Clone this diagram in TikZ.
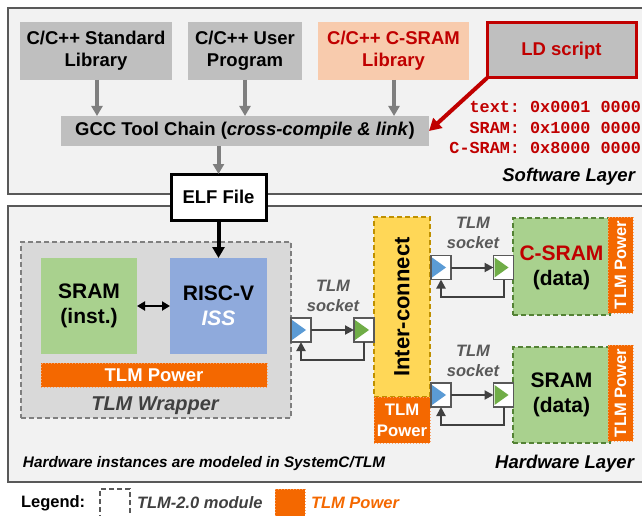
\documentclass[tikz,border=0pt]{standalone}
\usepackage{fontspec}
\setmainfont{Liberation Sans}
\setmonofont{Liberation Mono}
\usetikzlibrary{arrows.meta,calc}
\definecolor{layerfill}{HTML}{F2F2F2}
\definecolor{layerline}{HTML}{595959}
\definecolor{boxgray}{HTML}{BFBFBF}
\definecolor{peach}{HTML}{F8CBAD}
\definecolor{darkred}{HTML}{C00000}
\definecolor{wrapfill}{HTML}{D9D9D9}
\definecolor{wrapline}{HTML}{7F7F7F}
\definecolor{greenfill}{HTML}{A9D18E}
\definecolor{greenline}{HTML}{548235}
\definecolor{bluefill}{HTML}{8FAADC}
\definecolor{tlmorange}{HTML}{F46800}
\definecolor{tlmdot}{HTML}{F9A36A}
\definecolor{yellowfill}{HTML}{FFD757}
\definecolor{yellowline}{HTML}{BF9000}
\definecolor{sockblue}{HTML}{5B9BD5}
\definecolor{sockgreen}{HTML}{70AD47}
\definecolor{textgray}{HTML}{404040}
\definecolor{labgray}{HTML}{595959}
\newcommand\myfs[2]{\fontsize{#1}{#2}\selectfont}
\newcommand\mysocket[4]{%
  \node[sock] (#1) at (#2,#3) {};
  \fill[#4] ($(#1.north west)+(1,2)$) -- ($(#1.south west)+(1,-2)$) -- ($(#1.west)+(15,0)$) -- cycle;
}
\tikzset{
  layer/.style={draw=layerline, fill=layerfill, line width=1.5pt},
  base/.style={inner sep=0pt, outer sep=0pt, align=center},
  swbox/.style={base, fill=boxgray, font=\myfs{18.5}{22}\bfseries},
  grayarrow/.style={draw=wrapline, line width=4pt, -{Triangle[length=10pt,width=11pt]}},
  redarrow/.style={draw=darkred, line width=4pt, -{Triangle[length=12pt,width=13pt]}},
  blackarrow/.style={draw=black, line width=4pt, -{Triangle[length=11pt,width=12pt]}},
  dblarrow/.style={draw=black, line width=2pt, {Triangle[length=8pt,width=9pt]}-{Triangle[length=8pt,width=9pt]}},
  sockarrow/.style={draw=textgray, line width=2pt, -{Triangle[length=9pt,width=9pt]}},
  sock/.style={base, draw=layerline, fill=white, line width=1.2pt, minimum width=20pt, minimum height=24pt},
  power/.style={base, fill=tlmorange, draw=tlmdot, dotted, line width=1pt, text=white},
  greenbox/.style={base, fill=greenfill, draw=greenline, line width=1.8pt, dash pattern=on 5pt off 3pt},
  socklabel/.style={base, text=labgray, font=\myfs{16.5}{20}\bfseries\itshape},
  mono/.style={base, anchor=east, text=darkred, font=\myfs{16.8}{20}\ttfamily\bfseries},
}
\begin{document}
\begin{tikzpicture}[x=1pt,y=-1pt]
\useasboundingbox (0,0) rectangle (642,516);
\clip (0,0) rectangle (642,516);
% layers
\path[layer] (8,8) rectangle (660,194);
\path[layer] (8,206) rectangle (660,482);
% software layer boxes
\node[swbox, minimum width=152pt, minimum height=58pt] (stdlib) at (96,51) {C/C++ Standard\\Library};
\node[swbox, minimum width=114pt, minimum height=58pt] (userprog) at (245,51) {C/C++ User\\Program};
\node[swbox, fill=peach, text=darkred, minimum width=151pt, minimum height=58pt] (csramlib) at (393.5,51) {C/C++ C-SRAM\\Library};
\node[swbox, draw=darkred, line width=3pt, text=darkred, minimum width=149pt, minimum height=55pt] (ld) at (561.5,50.5) {LD script};
\node[swbox, minimum width=368pt, minimum height=30pt] (gcc) at (245,131) {GCC Tool Chain (\textit{cross-compile \& link})};
\draw[grayarrow] (stdlib.south -| 97,0) -- (97,116);
\draw[grayarrow] (userprog.south) -- (245,116);
\draw[grayarrow] (csramlib.south -| 394,0) -- (394,116);
\draw[redarrow] (ld.south west) -- (gcc.east);
\node[mono] (m1) at (641,107) {text: 0x0001 0000};
\node[mono] (m2) at (641,128) {SRAM: 0x1000 0000};
\node[mono] (m3) at (641,148) {C-SRAM: 0x8000 0000};
\node[base, anchor=east, font=\myfs{18.5}{22}\bfseries\itshape] (swlabel) at (635,177) {Software Layer};
% ELF
\node[base, fill=white, draw=black, line width=3pt, minimum width=95pt, minimum height=46pt, font=\myfs{18.5}{22}\bfseries] (elf) at (218.5,197) {ELF File};
\draw[grayarrow] (gcc.south -| elf.north) -- (elf.north);
% hardware: wrapper
\node[base, fill=wrapfill, draw=wrapline, dash pattern=on 5pt off 3pt, line width=1.8pt, minimum width=270pt, minimum height=176pt] (wrapper) at (156,330) {};
\node[base, fill=greenfill, minimum width=96pt, minimum height=96pt, font=\myfs{21}{25}\bfseries] (sraminst) at (89,306) {SRAM\\(inst.)};
\node[base, fill=bluefill, minimum width=97pt, minimum height=96pt, font=\myfs{21}{25}\bfseries] (riscv) at (218.5,306) {RISC-V\\\textcolor{white}{\itshape ISS}};
\draw[dblarrow] (sraminst.east) -- (riscv.west);
\draw[blackarrow] (elf.south) -- (riscv.north);
\node[power, minimum width=226pt, minimum height=24pt, font=\myfs{18.5}{22}\bfseries] (pw1) at (154,375) {TLM Power};
\node[base, text=textgray, font=\myfs{20}{22}\bfseries\itshape] (wraplabel) at (155,406) {TLM Wrapper};
% interconnect
\node[base, fill=yellowfill, draw=yellowline, dash pattern=on 5pt off 3pt, line width=1.8pt, minimum width=56pt, minimum height=180pt] (ic) at (402,307) {};
\node[base, rotate=90, font=\myfs{22}{24}\bfseries] (iclabel) at (402,307) {Inter-connect};
\node[power, minimum width=56pt, minimum height=46pt, font=\myfs{16.7}{21}\bfseries] (pw2) at (402,420) {TLM\\Power};
% memories
\node[greenbox, minimum width=97pt, minimum height=97pt] (csram) at (561.5,266.5) {};
\node[base, font=\myfs{21}{25}\bfseries] (csramlabel) at (561.5,267.5) {\textcolor{darkred}{C-SRAM}\\(data)};
\node[power, minimum width=25pt, minimum height=96pt] (pw3) at (620.5,265) {};
\node[base, rotate=90, text=white, font=\myfs{16.5}{20}\bfseries] (pw3t) at (620.5,265) {TLM Power};
\node[greenbox, minimum width=97pt, minimum height=96pt] (sramdata) at (561.5,395) {};
\node[base, font=\myfs{21}{25}\bfseries] (sramdatalabel) at (561.5,394.5) {SRAM\\(data)};
\node[power, minimum width=25pt, minimum height=96pt] (pw4) at (620.5,393) {};
\node[base, rotate=90, text=white, font=\myfs{16.5}{20}\bfseries] (pw4t) at (620.5,393) {TLM Power};
% sockets
\mysocket{bl1}{301}{330}{sockblue}
\mysocket{gr1}{364}{330}{sockgreen}
\mysocket{bl2}{441}{267.5}{sockblue}
\mysocket{gr2}{503.5}{267.5}{sockgreen}
\mysocket{bl3}{441}{395}{sockblue}
\mysocket{gr3}{503.5}{395}{sockgreen}
\draw[sockarrow] (bl1.east) -- (gr1.west);
\draw[sockarrow] (gr1.south) -- ++(0,18) -| (bl1.south);
\draw[sockarrow] (bl2.east) -- (gr2.west);
\draw[sockarrow] (gr2.south) -- ++(0,17.5) -| (bl2.south);
\draw[sockarrow] (bl3.east) -- (gr3.west);
\draw[sockarrow] (gr3.south) -- ++(0,18) -| (bl3.south);
\node[socklabel] (s1) at (333,296) {TLM\\socket};
\node[socklabel] (s2) at (473,233) {TLM\\socket};
\node[socklabel] (s3) at (473,361) {TLM\\socket};
% hardware labels
\node[base, anchor=west, font=\myfs{15.3}{17}\bfseries\itshape] (hwnote) at (23,464) {Hardware instances are modeled in SystemC/TLM};
\node[base, anchor=east, font=\myfs{18.5}{22}\bfseries\itshape] (hwlabel) at (634,464) {Hardware Layer};
% legend
\node[base, anchor=west, font=\myfs{16.5}{20}\bfseries] (legend) at (21,503) {Legend:};
\node[base, draw=layerline, dash pattern=on 5pt off 3pt, line width=2.2pt, minimum width=30pt, minimum height=34pt] (legbox) at (115,506) {};
\node[base, anchor=west, text=textgray, font=\myfs{16.5}{20}\bfseries\itshape] (legtext1) at (137,503) {TLM-2.0 module};
\node[power, minimum width=30pt, minimum height=34pt] (legpow) at (290,506) {};
\node[base, anchor=west, text=tlmorange, font=\myfs{16.5}{20}\bfseries\itshape] (legtext2) at (311,503) {TLM Power};
\end{tikzpicture}
\end{document}
